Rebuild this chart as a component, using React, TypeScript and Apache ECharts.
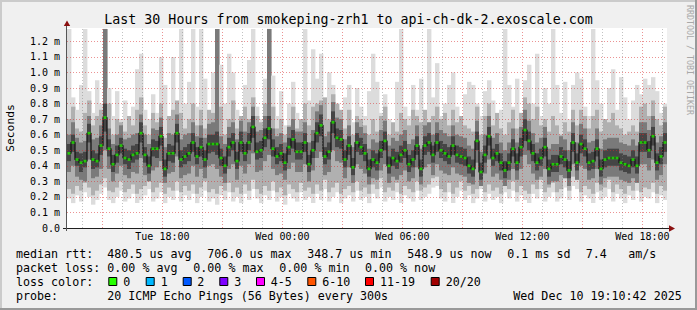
import React, { useEffect, useRef } from "react";
import * as echarts from "echarts";

// ---- data (values in units of 0.01 ms) ----
const START_HOUR = 13.23; // Tue 13:14 (hours since Tue 00:00)
const STEP_HOURS = 0.2;

const medianRtt = [
  48,55,44,42,43,61,44,43,53,71,51,41,47,53,45,44,47,48,61,47,40,51,51,59,38,48,48,61,
  44,46,48,55,46,52,44,54,54,54,45,40,52,55,43,55,48,55,65,49,50,58,64,51,46,48,42,52,57,49,
  49,55,41,50,61,66,46,49,68,58,57,44,53,39,55,52,48,38,44,42,50,56,40,45,43,47,50,41,44,53,
  38,53,55,47,55,50,48,46,53,47,46,45,40,38,56,36,47,59,45,48,42,37,42,51,42,52,63,56,48,42,
  45,52,38,41,41,46,44,37,55,42,54,51,42,43,51,38,44,45,45,45,42,41,40,44,40,55,55,50,59,42,46,55,
];
const smokeMin = [
  19,16,21,17,23,20,15,18,22,26,18,16,20,24,17,19,22,16,18,21,25,17,19,23,16,20,18,24,17,21,
  18,22,16,20,24,17,19,15,21,18,23,17,20,16,22,18,25,19,16,21,18,24,17,20,15,22,19,17,23,18,
  20,16,22,18,25,17,20,23,16,19,21,17,24,18,20,16,22,19,26,17,20,18,23,16,21,19,17,24,18,20,
  22,26,27,19,17,23,16,20,24,18,21,16,19,25,17,22,18,20,16,23,19,24,17,21,18,16,22,19,25,17,
  20,23,17,19,26,18,27,25,17,21,19,16,23,18,20,25,17,22,19,16,21,18,24,17,20,19,23,16,21,18,
];
const smokeLow = [
  25,22,27,24,29,26,21,24,28,32,24,23,26,30,23,25,28,22,25,27,31,23,26,29,22,26,24,30,23,27,
  24,28,22,26,30,23,25,22,27,24,29,23,26,22,28,24,31,25,22,27,24,30,23,26,21,28,25,23,29,24,
  26,22,28,24,31,23,26,29,22,25,27,23,30,24,26,22,28,25,32,23,26,24,29,22,27,25,23,30,24,26,
  28,32,33,25,23,29,22,26,30,24,27,22,25,31,23,28,24,26,22,29,25,30,23,27,24,22,28,25,31,23,
  26,29,23,25,32,24,33,31,23,27,25,22,29,24,26,31,23,28,25,22,27,24,30,23,26,25,29,22,27,24,
];
const smokeCoreLow = [
  36,40,33,31,30,44,32,33,38,50,38,30,35,40,34,32,36,35,45,34,30,37,39,43,29,35,36,46,
  32,34,35,40,33,38,32,40,41,38,33,29,38,41,31,40,35,41,48,36,37,43,47,38,34,35,31,38,42,36,
  36,41,30,37,45,49,34,36,50,43,42,32,39,29,41,38,35,28,32,31,37,41,29,33,31,34,37,30,32,39,
  28,39,41,34,41,37,35,34,39,35,34,33,29,28,42,27,35,44,33,35,31,27,31,38,31,38,47,41,35,31,
  33,38,28,30,30,34,32,27,41,31,40,38,31,32,38,28,32,33,33,33,31,30,29,32,29,41,41,37,44,31,34,41,
];
const smokeInnerLow = [
  43,49,40,36,39,55,38,39,47,62,46,36,42,48,41,38,42,44,55,42,35,46,45,53,33,43,42,55,
  39,41,43,49,41,46,39,48,49,47,40,35,46,50,38,49,43,50,58,44,45,52,57,46,41,43,37,47,51,44,
  44,49,36,45,55,59,41,44,61,52,51,39,47,34,49,47,43,33,39,37,45,50,35,40,38,42,45,36,39,47,
  33,47,49,42,49,45,43,41,47,42,41,40,35,33,50,31,42,53,40,43,37,32,37,46,37,46,56,50,43,37,
  40,46,33,36,36,41,39,32,49,37,48,46,37,38,46,33,39,40,40,40,37,36,35,39,35,49,49,45,53,37,41,49,
];
const smokeInnerHigh = [
  54,60,49,48,49,67,50,48,59,80,57,47,53,58,51,50,53,54,68,52,46,57,56,65,44,54,53,67,
  50,52,54,61,52,58,50,60,60,62,51,46,58,61,49,62,54,61,72,55,56,64,72,57,52,54,48,58,63,55,
  55,61,47,56,68,73,52,55,75,64,63,50,59,45,61,58,54,44,50,48,56,62,46,51,49,53,56,47,50,59,
  44,59,61,53,61,56,54,52,59,53,52,51,46,44,62,42,53,65,51,54,48,43,48,57,48,58,70,62,54,48,
  51,58,44,47,47,52,50,43,61,48,60,57,48,49,57,44,50,51,51,51,48,47,46,50,46,61,61,56,65,48,52,61,
];
const smokeCoreHigh = [
  60,68,58,55,56,72,57,58,66,128,64,54,60,66,57,58,60,61,73,60,54,64,63,71,52,61,60,73,
  57,60,61,68,59,66,58,67,68,128,59,54,65,68,57,69,62,68,78,62,63,72,128,64,59,61,55,65,70,62,
  62,68,55,63,75,79,59,62,81,71,70,57,66,52,68,65,61,51,57,55,63,69,53,58,56,60,63,54,57,66,
  51,66,68,60,68,63,61,59,66,60,59,58,53,51,69,49,60,72,58,61,55,50,55,64,55,65,76,69,61,55,
  58,65,51,54,54,59,57,50,68,55,67,64,55,56,64,51,57,58,58,58,55,54,53,57,53,68,68,63,72,55,59,68,
];
const smokeHigh = [
  70,78,64,62,74,82,66,72,76,128,80,60,70,68,62,72,66,76,84,66,60,74,68,80,58,72,76,82,74,64,
  70,80,66,76,64,76,74,128,78,60,70,82,64,72,78,70,84,72,68,80,128,78,64,70,60,66,78,64,70,80,
  66,78,80,82,84,70,86,80,76,64,76,60,72,70,66,60,70,62,72,78,60,68,62,74,70,66,76,72,68,76,
  62,72,78,70,74,66,76,68,72,66,64,62,78,60,72,80,66,74,64,60,68,76,64,74,84,80,70,78,66,70,
  62,72,66,60,68,62,76,66,76,72,64,72,76,62,70,68,74,66,64,60,62,66,62,78,80,72,82,70,66,78,
];
const smokeMax = [
  128,84,76,92,128,88,74,95,80,128,90,72,88,70,82,68,78,102,112,76,70,86,74,110,92,68,110,72,128,80,
  94,128,78,128,96,74,100,128,105,80,112,100,76,70,92,108,128,78,70,96,128,98,72,88,66,80,94,74,68,128,
  82,115,96,112,80,100,92,76,70,84,92,68,90,78,72,88,112,94,74,86,70,66,94,128,78,72,92,76,96,74,
  128,84,106,72,80,92,100,78,70,86,94,92,80,72,88,95,82,68,76,128,92,78,96,74,95,105,80,112,72,90,
  80,128,92,74,94,70,92,100,96,78,72,128,95,80,70,90,102,76,97,84,70,82,92,86,96,92,97,88,74,80,
];

const xTickHours = [18, 24, 30, 36, 42];
const xTickLabels = ["Tue 18:00", "Wed 00:00", "Wed 06:00", "Wed 12:00", "Wed 18:00"];
const yTickValues = [0, 0.1, 0.2, 0.3, 0.4, 0.5, 0.6, 0.7, 0.8, 0.9, 1.0, 1.1, 1.2];
const majorGridHours = [15, 18, 21, 24, 27, 30, 33, 36, 39, 42];
const minorGridHours = [14, 16, 17, 19, 20, 22, 23, 25, 26, 28, 29, 31, 32, 34, 35, 37, 38, 40, 41, 43];

const titleText = "Last 30 Hours from smokeping-zrh1 to api-ch-dk-2.exoscale.com";
const legendRtt = ["median rtt:", "480.5 us avg", "706.0 us max", "348.7 us min", "548.9 us now", "0.1 ms sd", "7.4", "am/s"];
const legendLoss = ["packet loss:", "0.00 % avg", "0.00 % max", "0.00 % min", "0.00 % now"];
const lossLabels = ["0", "1", "2", "3", "4-5", "6-10", "11-19", "20/20"];
const lossColors = ["#26ff00", "#00b8ff", "#0059ff", "#7e00ff", "#ff00ff", "#ff5500", "#ff0000", "#a10000"];
const probeTexts = ["probe:", "20 ICMP Echo Pings (56 Bytes) every 300s", "Wed Dec 10 19:10:42 2025"];

// ---- layout (pixels) ----
const RTT_X = [16, 107.3, 207.3, 307.3, 407.3, 507.3, 585.7, 628.3];
const LOSS_X = [16, 107.3, 193.3, 279.3, 365];
const BOX_X = [108.3, 145.7, 182.7, 219.3, 256, 307.3, 365, 430.7];
const BOX_LABEL_X = [123.3, 160.7, 197.3, 234.3, 270.7, 322.3, 380, 445.7];
const PROBE_X = [16, 107.3, 513.3];

const MONO = '"DejaVu Sans Mono", monospace';

export default function App() {
  const ref = useRef<HTMLDivElement>(null);

  useEffect(() => {
    if (!ref.current) return;
    const chart = echarts.init(ref.current, null, { renderer: "svg" });

    const smokeData = medianRtt.map((_, i) => [
      START_HOUR + i * STEP_HOURS,
      smokeMin[i] / 100,
      smokeLow[i] / 100,
      smokeCoreLow[i] / 100,
      smokeInnerLow[i] / 100,
      smokeInnerHigh[i] / 100,
      smokeCoreHigh[i] / 100,
      smokeHigh[i] / 100,
      smokeMax[i] / 100,
    ]);
    const medData = medianRtt.map((v, i) => [START_HOUR + (i + 0.5) * STEP_HOURS, v / 100]);

    const layers: [number, number, string][] = [
      [1, 8, "#dcdcdc"],
      [2, 7, "#b0b0b0"],
      [3, 6, "#7a7a7a"],
      [4, 5, "#454545"],
    ];

    const gridLines: any[] = [];
    minorGridHours.forEach((h) =>
      gridLines.push({ xAxis: h, lineStyle: { color: "rgba(120,120,120,0.45)", type: [1, 2], width: 1 } })
    );
    majorGridHours.forEach((h) =>
      gridLines.push({ xAxis: h, lineStyle: { color: "rgba(215,40,40,0.5)", type: [1, 2], width: 1 } })
    );
    yTickValues.slice(1).forEach((v) =>
      gridLines.push({ yAxis: v, lineStyle: { color: "rgba(215,40,40,0.5)", type: [1, 2], width: 1 } })
    );

    const text = (t: string, x: number, y: number, size: number, extra: any = {}) => ({
      type: "text",
      x,
      y,
      z: 100,
      style: { text: t, font: `${size}px ${MONO}`, fill: "#000", align: "left", verticalAlign: "middle", ...extra },
    });

    const graphics: any[] = [
      { type: "rect", shape: { x: 0, y: 0, width: 697, height: 2 }, style: { fill: "#cbcbcb" }, z: 100 },
      { type: "rect", shape: { x: 0, y: 0, width: 2, height: 310 }, style: { fill: "#cbcbcb" }, z: 100 },
      { type: "rect", shape: { x: 0, y: 308, width: 697, height: 2 }, style: { fill: "#999999" }, z: 100 },
      { type: "rect", shape: { x: 695, y: 0, width: 2, height: 310 }, style: { fill: "#999999" }, z: 100 },
      { type: "line", shape: { x1: 63, y1: 228.5, x2: 670, y2: 228.5 }, style: { stroke: "#1f1f1f", lineWidth: 1 }, z: 100 },
      { type: "line", shape: { x1: 66.5, y1: 231, x2: 66.5, y2: 25 }, style: { stroke: "#555555", lineWidth: 1 }, z: 100 },
      { type: "polygon", shape: { points: [[67, 20.5], [63.8, 26], [70.2, 26]] }, style: { fill: "#8b1010" }, z: 101 },
      { type: "polygon", shape: { points: [[675, 228.5], [669, 225.3], [669, 231.7]] }, style: { fill: "#8b1010" }, z: 101 },
      text(titleText, 348.5, 19, 13.3, { align: "center" }),
      {
        type: "text",
        x: 10,
        y: 128,
        rotation: Math.PI / 2,
        z: 100,
        style: { text: "Seconds", font: `11.3px ${MONO}`, fill: "#000", align: "center", verticalAlign: "middle" },
      },
      {
        type: "text",
        x: 689.5,
        y: 60,
        rotation: -Math.PI / 2,
        z: 100,
        style: { text: "RRDTOOL / TOBI OETIKER", font: `8.3px ${MONO}`, fill: "#a8a8a8", align: "center", verticalAlign: "middle" },
      },
    ];
    legendRtt.forEach((t, i) => graphics.push(text(t, RTT_X[i], 254, 11.66)));
    legendLoss.forEach((t, i) => graphics.push(text(t, LOSS_X[i], 268, 11.66)));
    graphics.push(text("loss color:", 16, 282, 11.66));
    lossLabels.forEach((t, i) => {
      graphics.push({
        type: "rect",
        z: 100,
        shape: { x: BOX_X[i] + 0.5, y: 277.5, width: 8, height: 8 },
        style: { fill: lossColors[i], stroke: "#000", lineWidth: 1 },
      });
      graphics.push(text(t, BOX_LABEL_X[i], 282, 11.66));
    });
    probeTexts.forEach((t, i) => graphics.push(text(t, PROBE_X[i], 296, 11.66)));

    chart.setOption({
      animation: false,
      backgroundColor: "#f0f0f0",
      grid: { left: 67, top: 28, width: 600, height: 200, show: true, backgroundColor: "#ffffff", borderWidth: 0 },
      xAxis: {
        type: "value",
        min: START_HOUR,
        max: START_HOUR + 30,
        axisLine: { show: false },
        axisTick: { show: false },
        splitLine: { show: false },
        axisLabel: {
          customValues: xTickHours,
          formatter: (v: number) => {
            const k = xTickHours.indexOf(Math.round(v));
            return k >= 0 ? xTickLabels[k] : "";
          },
          fontFamily: "DejaVu Sans Mono",
          fontSize: 10,
          color: "#000",
          margin: 3,
        },
      },
      yAxis: {
        type: "value",
        min: 0,
        max: 1.286,
        axisLine: { show: false },
        axisTick: { show: false },
        splitLine: { show: false },
        axisLabel: {
          customValues: yTickValues,
          formatter: (v: number) => (v === 0 ? "0.0" : v.toFixed(1) + " m"),
          fontFamily: "DejaVu Sans Mono",
          fontSize: 10,
          color: "#000",
          margin: 7,
        },
      },
      series: [
        {
          type: "custom",
          z: 2,
          clip: true,
          encode: { x: 0, y: [1, 8] },
          data: smokeData,
          renderItem: (params: any, api: any) => {
            const t = api.value(0);
            const x0 = api.coord([t, 0])[0];
            const x1 = api.coord([t + STEP_HOURS, 0])[0];
            const children = layers.map(([lo, hi, color]) => {
              const yl = api.coord([t, api.value(lo)])[1];
              const yh = api.coord([t, api.value(hi)])[1];
              return {
                type: "rect",
                shape: { x: x0, y: yh, width: x1 - x0 + 0.4, height: yl - yh },
                style: { fill: color },
              };
            });
            return { type: "group", children };
          },
        },
        {
          type: "line",
          z: 3,
          data: [],
          silent: true,
          markLine: { silent: true, symbol: "none", label: { show: false }, animation: false, data: gridLines },
        },
        {
          type: "line",
          z: 4,
          step: "middle",
          data: medData,
          symbol: "none",
          silent: true,
          lineStyle: { color: "#161616", width: 1.3 },
        },
        {
          type: "scatter",
          z: 5,
          data: medData,
          symbol: "rect",
          symbolSize: [3, 2.6],
          silent: true,
          itemStyle: { color: "#22f000" },
        },
      ],
      graphic: graphics,
    });

    return () => chart.dispose();
  }, []);

  return <div ref={ref} style={{ position: "fixed", left: 0, top: 0, width: 697, height: 310 }} />;
}
